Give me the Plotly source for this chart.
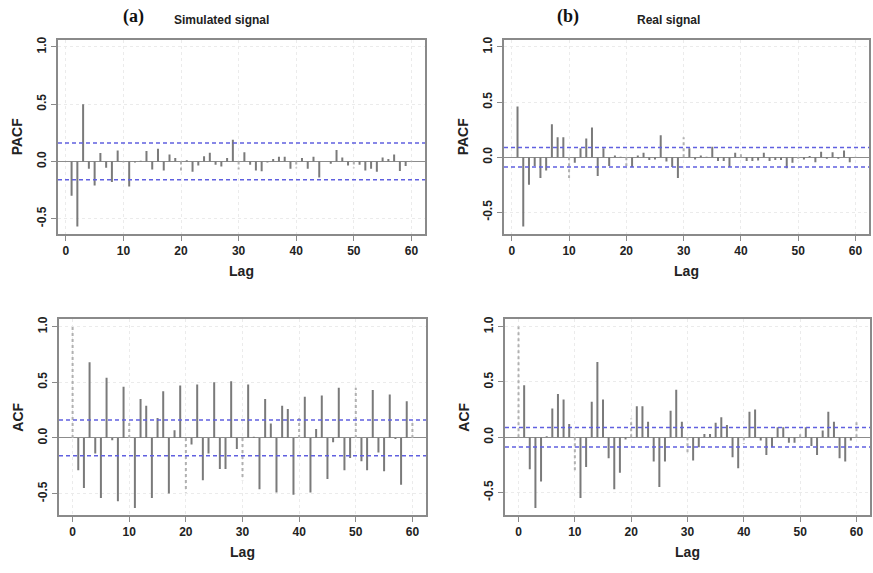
import plotly.graph_objects as go

# ---------------- data ----------------
lags_pacf = list(range(1, 61))
lags_acf = list(range(0, 61))

pacf_sim = [-0.30, -0.57, 0.50, -0.064, -0.21, 0.073, -0.055, -0.18, 0.096, -0.01,
            -0.22, -0.01, 0.005, 0.09, -0.07, 0.11, -0.08, 0.06, 0.03, -0.09,
            0.01, -0.09, -0.035, 0.044, 0.075, -0.03, -0.045, 0.03, 0.19, -0.07,
            0.08, -0.03, -0.08, -0.087, -0.01, 0.02, 0.04, 0.04, -0.064, -0.06,
            0.03, -0.064, 0.04, -0.14, 0.0, -0.02, 0.10, 0.035, -0.035, -0.06,
            -0.03, -0.08, -0.064, -0.09, 0.035, 0.02, 0.06, -0.085, -0.04, 0.005]

pacf_real = [0.46, -0.63, -0.25, -0.08, -0.19, -0.12, 0.30, 0.18, 0.18, -0.19,
             -0.05, 0.08, 0.17, 0.27, -0.17, 0.08, -0.08, 0.015, 0.005, -0.08,
             -0.09, 0.015, 0.04, -0.025, -0.02, 0.20, -0.04, -0.09, -0.19, 0.18,
             0.08, -0.02, 0.015, 0.005, 0.095, -0.035, -0.035, -0.09, 0.04, 0.03,
             -0.035, -0.035, -0.03, 0.04, -0.035, -0.025, -0.025, -0.10, -0.05, -0.015,
             -0.02, 0.01, -0.045, 0.05, -0.015, 0.045, -0.015, 0.06, -0.045, 0.005]

acf_sim = [1.0, -0.29, -0.45, 0.68, -0.14, -0.54, 0.54, -0.02, -0.57, 0.46,
           0.15, -0.63, 0.35, 0.29, -0.54, 0.18, 0.42, -0.50, 0.07, 0.47,
           -0.49, -0.06, 0.48, -0.38, -0.14, 0.50, -0.28, -0.28, 0.51, -0.10,
           -0.38, 0.48, 0.01, -0.46, 0.35, 0.13, -0.49, 0.29, 0.26, -0.51,
           0.18, 0.37, -0.49, 0.08, 0.38, -0.37, -0.04, 0.45, -0.29, -0.18,
           0.45, -0.21, -0.29, 0.43, -0.13, -0.30, 0.39, -0.01, -0.42, 0.33,
           0.14]

acf_real = [1.0, 0.47, -0.29, -0.64, -0.40, 0.01, 0.26, 0.39, 0.34, 0.12,
            -0.31, -0.55, -0.27, 0.32, 0.68, 0.34, -0.19, -0.47, -0.32, -0.02,
            0.17, 0.28, 0.28, 0.14, -0.22, -0.45, -0.22, 0.24, 0.43, 0.14,
            -0.15, -0.21, -0.09, 0.03, 0.03, 0.13, 0.18, 0.11, -0.18, -0.28,
            -0.06, 0.23, 0.25, -0.03, -0.16, -0.09, 0.09, 0.09, -0.05, -0.05,
            0.05, 0.09, -0.08, -0.16, 0.06, 0.23, 0.14, -0.19, -0.22, -0.03,
            0.16]

clim_sim = 0.16
clim_real = 0.088

x_ticks = [0, 10, 20, 30, 40, 50, 60]
y_ticks = [-0.5, 0.0, 0.5, 1.0]
y_tick_labels = ["-0.5", "0.0", "0.5", "1.0"]

panel_titles = ["Simulated signal", "Real signal"]
panel_letters = ["(a)", "(b)"]

# ---------------- styling ----------------
W, H = 873, 573
GREY = "#7a7a7a"
BOX = "#8a8a8a"
GRID = "#ebebeb"
BLUE = "#6060e0"
FONT = "Liberation Sans, Arial, sans-serif"

# panel boxes in pixel coordinates (left, right, top, bottom)
boxes = [
    (58, 425, 37, 232),
    (504, 869, 37, 232),
    (59, 426, 318, 515),
    (505, 870, 318, 515),
]
title_centers = [221, 668]
letter_lefts = [121, 555]

panels = [
    (lags_pacf, pacf_sim, clim_sim, "PACF"),
    (lags_pacf, pacf_real, clim_real, "PACF"),
    (lags_acf, acf_sim, clim_sim, "ACF"),
    (lags_acf, acf_real, clim_real, "ACF"),
]


def ext(lo, hi, f=0.04):
    d = (hi - lo) * f
    return [lo - d, hi + d]


fig = go.Figure()
layout = dict(
    width=W, height=H,
    margin=dict(l=0, r=0, t=0, b=0),
    paper_bgcolor="white", plot_bgcolor="white",
    showlegend=False,
    font=dict(family=FONT, color="#222"),
)
shapes = []
annotations = []

for i, ((lags, vals, clim, ylab), (bl, br, bt, bb)) in enumerate(zip(panels, boxes)):
    n = i + 1
    xa = "xaxis" if n == 1 else f"xaxis{n}"
    ya = "yaxis" if n == 1 else f"yaxis{n}"
    xr = "x" if n == 1 else f"x{n}"
    yr = "y" if n == 1 else f"y{n}"

    xrange = ext(min(lags), max(lags))
    yrange = ext(min(min(vals), -clim), 1.0)

    solid_x, solid_y, dot_x, dot_y = [], [], [], []
    for l, v in zip(lags, vals):
        if l % 10 == 0:
            dot_x += [l, l, None]
            dot_y += [0, v, None]
        else:
            solid_x += [l, l, None]
            solid_y += [0, v, None]

    fig.add_trace(go.Scatter(x=solid_x, y=solid_y, mode="lines", xaxis=xr, yaxis=yr,
                             line=dict(color=GREY, width=2), hoverinfo="skip"))
    fig.add_trace(go.Scatter(x=dot_x, y=dot_y, mode="lines", xaxis=xr, yaxis=yr,
                             line=dict(color="#b0b0b0", width=2, dash="dot"), hoverinfo="skip"))

    axis_common = dict(
        showline=True, mirror=True, linecolor=BOX, linewidth=1.5,
        ticks="outside", ticklen=5, tickwidth=1.2, tickcolor=BOX,
        showgrid=True, gridcolor=GRID, griddash="dot", gridwidth=1,
        tickfont=dict(family=FONT, size=12, color="#222", weight="bold"),
        fixedrange=True,
    )
    layout[xa] = dict(
        axis_common,
        domain=[bl / W, br / W], anchor=yr, range=xrange,
        tickmode="array", tickvals=x_ticks, ticktext=[str(t) for t in x_ticks],
        zeroline=False,
        title=dict(text="Lag", font=dict(family=FONT, size=14, color="#222", weight="bold"),
                   standoff=9),
    )
    layout[ya] = dict(
        axis_common,
        domain=[1 - bb / H, 1 - bt / H], anchor=xr, range=yrange,
        tickmode="array", tickvals=y_ticks, ticktext=y_tick_labels, tickangle=-90,
        zeroline=True, zerolinecolor="#8c8c8c", zerolinewidth=1.2,
        title=dict(text=ylab, font=dict(family=FONT, size=14, color="#222", weight="bold"),
                   standoff=10),
    )

    for c in (clim, -clim):
        shapes.append(dict(type="line", xref=f"{xr} domain", yref=yr,
                           x0=0, x1=1, y0=c, y1=c,
                           line=dict(color=BLUE, width=1.5, dash="4px,3px")))

# titles and panel letters
for j, (t, letter) in enumerate(zip(panel_titles, panel_letters)):
    annotations.append(dict(text=t, xref="paper", yref="paper",
                            x=title_centers[j] / W, y=1 - 17 / H, showarrow=False,
                            xanchor="center", yanchor="middle",
                            font=dict(family=FONT, size=12, color="#222", weight="bold")))
    annotations.append(dict(text=letter, xref="paper", yref="paper",
                            x=letter_lefts[j] / W, y=1 - 14 / H, showarrow=False,
                            xanchor="left", yanchor="middle",
                            font=dict(family="Liberation Serif, Times New Roman, serif",
                                      size=18, color="#111", weight="bold")))

layout["shapes"] = shapes
layout["annotations"] = annotations
fig.update_layout(**layout)

fig.write_html("out.html")
